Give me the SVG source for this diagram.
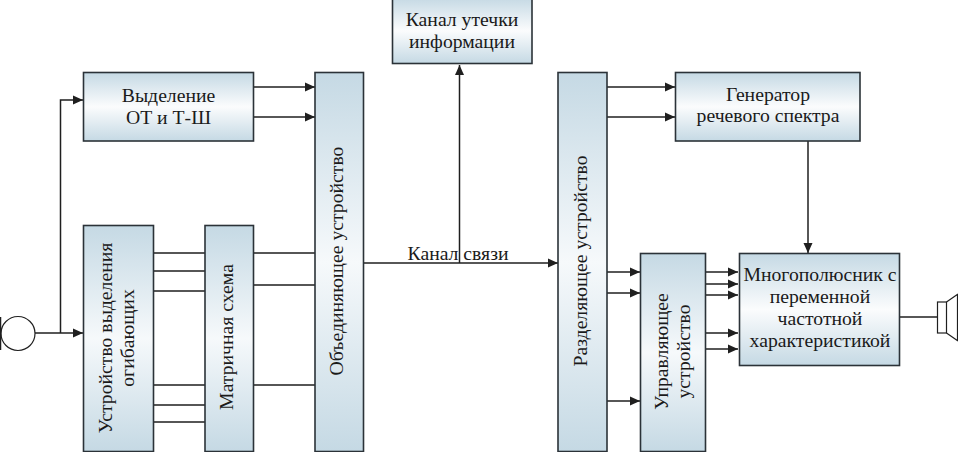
<svg xmlns="http://www.w3.org/2000/svg" width="958" height="452" viewBox="0 0 958 452">
<style>
.b{stroke:#2b3238;stroke-width:1.6}
.h{fill:url(#gh)}
.v{fill:url(#gv)}
text{font-family:"Liberation Serif","Times New Roman",serif;font-size:19.7px;fill:#1a1a1a;text-anchor:middle}
.c path,.c line{fill:none;stroke:#1f1f1f;stroke-width:1.5}
.a{marker-end:url(#ar)}
.s{fill:#fff;stroke:#1f1f1f;stroke-width:1.2}
</style>
<defs>
<linearGradient id="gh" x1="0" y1="0" x2="0" y2="1"><stop offset="0" stop-color="#c5d9e4"/><stop offset=".5" stop-color="#fbfcfd"/><stop offset="1" stop-color="#c5d9e4"/></linearGradient>
<linearGradient id="gv" x1="0" y1="0" x2="0" y2="1"><stop offset="0" stop-color="#c5d9e4"/><stop offset=".5" stop-color="#f6f9fb"/><stop offset="1" stop-color="#c5d9e4"/></linearGradient>
<marker id="ar" markerUnits="userSpaceOnUse" markerWidth="11" markerHeight="11" refX="10" refY="5.500" orient="auto"><path d="M0 1L10 5.500L0 10z" fill="#1f1f1f"/></marker>
</defs>
<g id="connectors" class="c">
<path class="a" d="M35 333H83"/>
<path class="a" d="M60.500 333V100H83"/>
<line class="a" x1="253" y1="87" x2="315" y2="87"/>
<line class="a" x1="253" y1="117" x2="315" y2="117"/>
<path d="M153 253H205M153 271H205M153 291H205M153 385H205M153 405H205M153 422H205"/>
<path d="M253 253H315M253 285H315M253 385H315"/>
<line class="a" x1="363" y1="263" x2="558" y2="263"/>
<path class="a" d="M459.500 263V65"/>
<line class="a" x1="607" y1="87" x2="675" y2="87"/>
<line class="a" x1="607" y1="117" x2="675" y2="117"/>
<path class="a" d="M808 141V253"/>
<line class="a" x1="607" y1="272" x2="640" y2="272"/>
<line class="a" x1="607" y1="293" x2="640" y2="293"/>
<line class="a" x1="607" y1="401" x2="640" y2="401"/>
<line class="a" x1="705" y1="272" x2="738" y2="272"/>
<line class="a" x1="705" y1="284" x2="738" y2="284"/>
<line class="a" x1="705" y1="295" x2="738" y2="295"/>
<line class="a" x1="705" y1="333" x2="738" y2="333"/>
<line class="a" x1="705" y1="349" x2="738" y2="349"/>
<path d="M900 317H937"/>
</g>
<g id="mic"><circle class="s" cx="18" cy="333.500" r="17"/><path d="M0.500 317V350" stroke="#1f1f1f" stroke-width="1.500"/></g>
<g id="speaker"><rect class="s" x="937.500" y="302" width="9" height="31"/><path class="s" d="M946.500 302L958 294M946.500 333L958 341M957.500 294V341"/></g>
<g id="n1"><rect class="b h" x="83.500" y="72.500" width="170" height="68.500"/><text x="168.500" y="102">Выделение</text><text x="168.500" y="124">ОТ и Т-Ш</text></g>
<g id="n2"><rect class="b v" x="83.500" y="225.500" width="70" height="226"/><text transform="translate(112 338) rotate(-90)">Устройство выделения</text><text transform="translate(134 338) rotate(-90)">огибающих</text></g>
<g id="n3"><rect class="b v" x="205" y="225.500" width="48.500" height="226"/><text transform="translate(233 337) rotate(-90)">Матричная схема</text></g>
<g id="n4"><rect class="b v" x="315" y="72.500" width="48.500" height="379"/><text transform="translate(343 261) rotate(-90)">Объединяющее устройство</text></g>
<g id="n5"><rect class="b h" x="392.500" y="-2" width="139.500" height="65.500"/><text x="462" y="26">Канал утечки</text><text x="462" y="48">информации</text></g>
<g id="n6"><rect class="b v" x="558" y="72.500" width="49" height="379"/><text transform="translate(587 261) rotate(-90)">Разделяющее устройство</text></g>
<g id="n7"><rect class="b h" x="675.500" y="72.500" width="184.500" height="68.500"/><text x="768" y="101">Генератор</text><text x="768" y="122">речевого спектра</text></g>
<g id="n8"><rect class="b v" x="640.500" y="253.500" width="65" height="198"/><text transform="translate(668 351.500) rotate(-90)">Управляющее</text><text transform="translate(690 351.500) rotate(-90)">устройство</text></g>
<g id="n9"><rect class="b h" x="739.500" y="253.500" width="160" height="112"/><text x="820" y="281">Многополюсник с</text><text x="820" y="303">переменной</text><text x="820" y="325">частотной</text><text x="820" y="347">характеристикой</text></g>
<text x="458" y="260">Канал связи</text>
</svg>
